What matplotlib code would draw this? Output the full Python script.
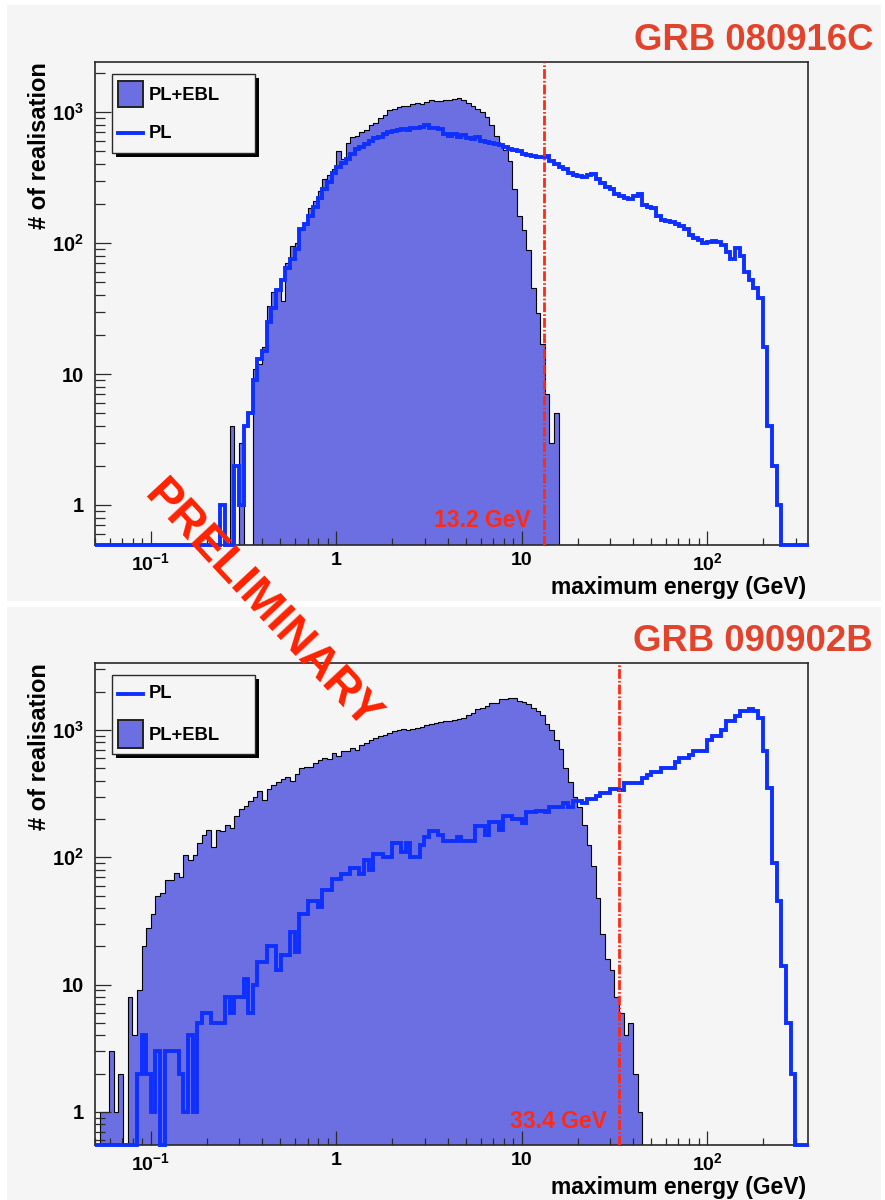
import numpy as np
import matplotlib
matplotlib.use("Agg")
import matplotlib.pyplot as plt
from matplotlib.patches import Rectangle
from matplotlib.lines import Line2D
from matplotlib.ticker import FixedLocator, FixedFormatter, LogLocator, NullFormatter

plt.rcParams['font.family'] = ['Liberation Sans', 'DejaVu Sans']
plt.rcParams['font.weight'] = 'bold'
plt.rcParams['mathtext.fontset'] = 'custom'
plt.rcParams['mathtext.rm'] = 'Liberation Sans:bold'
plt.rcParams['mathtext.it'] = 'Liberation Sans:bold'
plt.rcParams['mathtext.bf'] = 'Liberation Sans:bold'
plt.rcParams['lines.scale_dashes'] = False

# ---------------- data ----------------
log_e_lo, log_e_hi = -1.30, 2.55     # histogram range, log10(GeV)
n_bins = 154

x_ticks = [0.1, 1, 10, 100]
x_tick_labels = [r'$10^{-1}$', '1', '10', r'$10^{2}$']
y_ticks = [1, 10, 100, 1000]
y_tick_labels = ['1', '10', r'$10^{2}$', r'$10^{3}$']

titles = ['GRB 080916C', 'GRB 090902B']
e_max = [13.2, 33.4]
e_labels = ['13.2 GeV', '33.4 GeV']
x_label = 'maximum energy (GeV)'
y_label = '# of realisation'
watermark = 'PRELIMINARY'

# GRB 080916C, PL+EBL (first non-empty bin index, counts)
top_ebl_start = 29
top_ebl = [4, 0, 3, 0, 0, 11, 12, 16, 33, 42, 44, 36, 70, 95, 100,
           125, 140, 185, 210, 250, 310, 330, 370, 500, 440,
           580, 640, 660, 700, 730, 800, 830, 900, 950, 1030,
           1060, 1100, 1120, 1110, 1150, 1170, 1150, 1200, 1230, 1220,
           1210, 1240, 1230, 1260, 1270, 1230, 1170, 1120, 1050, 1000,
           920, 800, 660, 575, 510, 420, 260, 160, 125, 88,
           45, 29, 17, 7, 3, 5]
# GRB 080916C, PL
top_pl_start = 27
top_pl = [1, 0, 0, 2, 1, 4, 5, 9, 13, 15,
          25, 32, 44, 52, 65, 75, 90, 128, 140, 160,
          190, 220, 260, 290, 345, 380, 410, 440, 480, 520,
          540, 570, 600, 630, 650, 680, 700, 720, 730, 740,
          730, 750, 760, 770, 800, 760, 750, 740, 680, 660,
          680, 650, 670, 630, 620, 640, 600, 590, 580, 570,
          560, 540, 520, 510, 500, 480, 470, 460, 455, 450,
          460, 420, 400, 380, 370, 340, 330, 325, 320, 330,
          335, 310, 285, 270, 260, 235, 230, 220, 215, 230,
          235, 195, 190, 185, 160, 150, 148, 145, 140, 135,
          128, 115, 110, 105, 100, 102, 103, 102, 96, 85,
          75, 92, 80, 60, 52, 45, 38, 16, 4, 2,
          1]
# GRB 090902B, PL+EBL
bot_ebl_start = 1
bot_ebl = [1, 1, 3, 1, 2, 0, 8, 4, 9, 20,
           28, 36, 50, 52, 66, 66, 75, 70, 105, 95,
           105, 130, 150, 165, 120, 165, 160, 180, 170, 210,
           240, 255, 275, 300, 330, 280, 345, 370, 390, 415,
           425, 400, 455, 500, 510, 515, 550, 580, 600, 590,
           660, 620, 690, 690, 720, 700, 760, 790, 830, 870,
           890, 910, 950, 980, 1000, 1020, 1000, 1020, 1040, 1060,
           1090, 1120, 1140, 1150, 1170, 1180, 1200, 1230, 1250, 1320,
           1350, 1450, 1480, 1550, 1620, 1620, 1740, 1750, 1780, 1780,
           1700, 1660, 1590, 1480, 1420, 1310, 1120, 1000, 830, 710,
           500, 390, 300, 250, 180, 126, 85, 48, 25, 16,
           13, 8, 6, 4, 5, 2, 1]
# GRB 090902B, PL
bot_pl_start = 9
bot_pl = [2, 4, 2, 1, 3, 0, 3, 3, 3, 2,
          1, 4, 1, 5, 6, 6, 5, 5, 5, 8,
          6, 8, 8, 11, 6, 10, 15, 15, 20, 20,
          13, 17, 17, 26, 18, 36, 36, 45, 45, 41,
          55, 55, 68, 68, 74, 74, 82, 82, 74, 95,
          80, 107, 107, 100, 100, 130, 130, 110, 130, 100,
          100, 125, 145, 160, 160, 150, 135, 135, 135, 145,
          135, 135, 135, 175, 175, 150, 190, 190, 165, 210,
          210, 200, 200, 185, 225, 225, 230, 230, 225, 250,
          250, 250, 268, 250, 275, 275, 268, 285, 285, 305,
          320, 320, 345, 345, 340, 385, 385, 385, 385, 420,
          445, 470, 470, 500, 500, 500, 565, 600, 600, 635,
          690, 690, 690, 830, 890, 890, 1000, 1170, 1170, 1290,
          1410, 1410, 1450, 1400, 1240, 680, 350, 90, 45, 14,
          5, 2]

# ---------------- style ----------------
FILL = '#6c6fe2'
BLUE = '#0d30ff'
RED_T = '#e2432d'
RED = '#ff2a14'
BG = '#f5f5f5'
FRAME = '#2a2a2a'

W, H = 885, 1200
fig = plt.figure(figsize=(W / 100, H / 100), dpi=100)
fig.patch.set_facecolor('white')


def fx(px):
    return px / W


def fy(py):
    return 1 - py / H


def prect(x0, y0, x1, y1, **kw):
    return Rectangle((fx(x0), fy(y1)), (x1 - x0) / W, (y1 - y0) / H,
                     transform=fig.transFigure, **kw)


def full(start, vals):
    a = np.zeros(n_bins)
    a[start:start + len(vals)] = vals
    return a


edges = np.logspace(log_e_lo, log_e_hi, n_bins + 1)

# panel backgrounds
fig.add_artist(prect(7, 5, 881, 601, facecolor=BG, edgecolor='none', zorder=-5))
fig.add_artist(prect(7, 607, 881, 1200, facecolor=BG, edgecolor='none', zorder=-5))

panels = [
    dict(top=62, bot=545, ebl=full(top_ebl_start, top_ebl), pl=full(top_pl_start, top_pl),
         ylim=(0.495, 2410), title_y=50, lab_y=527, lab_x=531, xl_y=594,
         legend='ebl_first'),
    dict(top=663, bot=1145, ebl=full(bot_ebl_start, bot_ebl), pl=full(bot_pl_start, bot_pl),
         ylim=(0.55, 3360), title_y=651, lab_y=1128, lab_x=607, xl_y=1194,
         legend='pl_first'),
]

for i, p in enumerate(panels):
    ax = fig.add_axes([fx(95), fy(p['bot']), 713 / W, (p['bot'] - p['top']) / H])
    ax.set_facecolor(BG)
    ymin, ymax = p['ylim']
    ax.set_xscale('log')
    ax.set_yscale('log')
    ax.set_xlim(0.05, 350)
    ax.set_ylim(ymin, ymax)

    ebl = np.maximum(p['ebl'], ymin)
    pl = np.maximum(p['pl'], ymin)
    ax.stairs(ebl, edges, baseline=ymin, fill=True, facecolor=FILL,
              edgecolor='none', zorder=1)
    ax.stairs(ebl, edges, baseline=ymin, color='black', lw=0.8, zorder=1.5)
    ax.stairs(pl, edges, baseline=None, color=BLUE, lw=2.8, zorder=2.7,
              clip_on=False)
    ax.axvline(e_max[i], color=RED, lw=2.0, dashes=(7, 1.5, 1.2, 1.5), zorder=3)

    ax.set_axisbelow(False)
    ax.xaxis.set_major_locator(FixedLocator(x_ticks))
    ax.xaxis.set_major_formatter(FixedFormatter(x_tick_labels))
    ax.xaxis.set_minor_locator(LogLocator(base=10, subs=np.arange(2, 10), numticks=20))
    ax.xaxis.set_minor_formatter(NullFormatter())
    ax.yaxis.set_major_locator(FixedLocator(y_ticks))
    ax.yaxis.set_major_formatter(FixedFormatter(y_tick_labels))
    ax.yaxis.set_minor_locator(LogLocator(base=10, subs=np.arange(2, 10), numticks=20))
    ax.yaxis.set_minor_formatter(NullFormatter())
    ax.tick_params(axis='x', which='major', direction='in', length=10, width=0.9,
                   color=FRAME, labelsize=14, pad=5, top=False)
    ax.tick_params(axis='x', which='minor', direction='in', length=5, width=0.9,
                   color=FRAME, top=False)
    ax.tick_params(axis='y', which='major', direction='in', length=11.5, width=0.9,
                   color=FRAME, labelsize=14.5, pad=8, right=False)
    ax.tick_params(axis='y', which='minor', direction='in', length=7, width=0.9,
                   color=FRAME, right=False)
    for s in ax.spines.values():
        s.set_color(FRAME)
        s.set_linewidth(1.2)

    # titles and labels
    fig.text(fx(873), fy(p['title_y']), titles[i], ha='right', va='baseline',
             fontsize=26.3, color=RED_T, fontweight='bold')
    fig.text(fx(p['lab_x']), fy(p['lab_y']), e_labels[i], ha='right', va='baseline',
             fontsize=16.5, color=RED, fontweight='bold', zorder=6)
    fig.text(fx(806), fy(p['xl_y']), x_label, ha='right', va='baseline',
             fontsize=16.5, color='black', fontweight='bold')
    fig.text(fx(40), fy(p['top']), y_label, rotation=90, ha='center', va='top',
             fontsize=17, color='black', fontweight='bold')

    # legend (ROOT style box with shadow)
    t = p['top']
    fig.add_artist(prect(116, t + 16, 259, t + 95, facecolor='black', edgecolor='none', zorder=10))
    fig.add_artist(prect(112, t + 12, 255, t + 91, facecolor=BG, edgecolor=FRAME, lw=1.0, zorder=11))
    if p['legend'] == 'ebl_first':
        sq_y, line_y = (t + 19, t + 45), t + 71
        txt_sq, txt_line = t + 33, t + 71
    else:
        sq_y, line_y = (t + 57, t + 85), t + 31
        txt_sq, txt_line = t + 72, t + 31
    fig.add_artist(prect(118, sq_y[0], 143, sq_y[1], facecolor=FILL, edgecolor='#222222',
                         lw=1.4, zorder=12))
    fig.add_artist(Line2D([fx(118), fx(143)], [fy(line_y), fy(line_y)], color=BLUE, lw=2.8,
                          transform=fig.transFigure, zorder=12))
    fig.text(fx(149), fy(txt_sq), 'PL+EBL', ha='left', va='center', fontsize=13.2,
             fontweight='bold', zorder=13)
    fig.text(fx(149), fy(txt_line), 'PL', ha='left', va='center', fontsize=13.2,
             fontweight='bold', zorder=13)

fig.text(fx(262), fy(606), watermark, rotation=-47, rotation_mode='anchor',
         ha='center', va='center', fontsize=34, color='#ff2200', fontweight='bold', zorder=20)

fig.savefig('out.png', dpi=100, facecolor=fig.get_facecolor())
